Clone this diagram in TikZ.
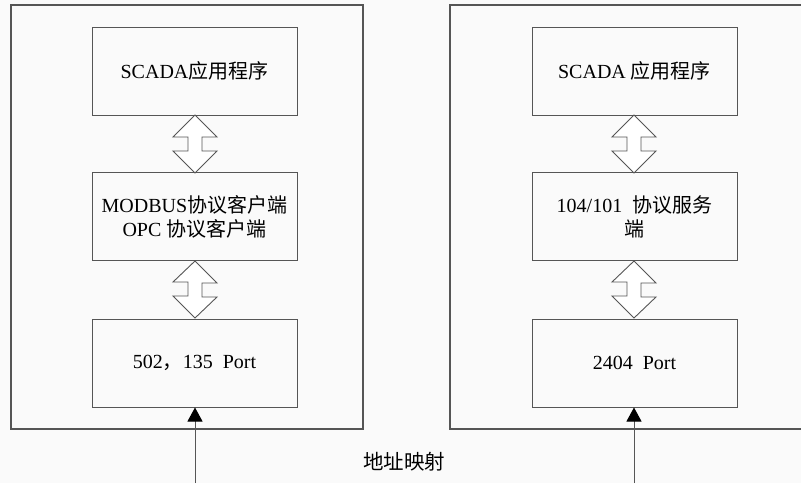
\documentclass[tikz,border=0pt]{standalone}
\usepackage{fontspec}
\setmainfont{Liberation Serif}
\newfontfamily\cjk{Noto Sans CJK SC}
\definecolor{linegray}{HTML}{555555}
\definecolor{bggray}{HTML}{FAFAFA}
\tikzset{
  outerbox/.style={draw=linegray, line width=1.1pt},
  innerbox/.style={draw=linegray, line width=1pt, minimum width=205pt, minimum height=88pt, inner sep=0pt, font=\fontsize{20}{25}\selectfont, align=center},
  dblarrow/.style={draw=linegray, line width=0.9pt, fill=white},
  feed/.style={draw=linegray, line width=1pt, -{Triangle[length=14pt,width=15pt,color=black]}},
  lbl/.style={font=\fontsize{20.5}{24}\selectfont\cjk}
}
\usetikzlibrary{arrows.meta}
\newcommand{\dblarr}[3]{% x, ytop, ybottom
  \draw[dblarrow] (#1,#2) -- ++(22,22) -- ++(-15,0) -- ++(0,14) -- ++(15,0)
    -- (#1,#3) -- ++(-22,-22) -- ++(15,0) -- ++(0,-14) -- ++(-15,0) -- cycle;}
\begin{document}
\begin{tikzpicture}[x=1pt,y=-1pt]
\useasboundingbox (0,0) rectangle (801,483);
\fill[bggray] (0,0) rectangle (801,483);
\clip (0,0) rectangle (801,483);
% outer boxes
\draw[outerbox] (11,5) rectangle (363,429);
\draw[outerbox] (450,5) rectangle (810,429);
% left column
\node[innerbox] (l1) at (194.5,71) {SCADA{\cjk 应用程序}};
\node[innerbox] (l2) at (194.5,216.5) {MODBUS{\cjk 协议客户端}\\[-1pt]OPC {\cjk 协议客户端}};
\node[innerbox] (l3) at (194.5,363) {502{\cjk ，}135\ \ Port};
% right column
\node[innerbox] (r1) at (634.5,71) {SCADA {\cjk 应用程序}};
\node[innerbox] (r2) at (634.5,216.5) {104/101\ \ {\cjk 协议服务}\\[-1pt]{\cjk 端}};
\node[innerbox] (r3) at (634.5,363) {2404\ \ Port};
% double arrows
\dblarr{195}{115}{173}
\dblarr{195}{261}{318}
\dblarr{634}{115}{173}
\dblarr{634}{261}{318}
% feed arrows
\coordinate (lin) at (195,483);
\coordinate (rin) at (634,483);
\draw[feed] (lin) -- (l3.south -| lin);
\draw[feed] (rin) -- (r3.south -| rin);
\node[lbl] (map) at (404,462) {地址映射};
\end{tikzpicture}
\end{document}
